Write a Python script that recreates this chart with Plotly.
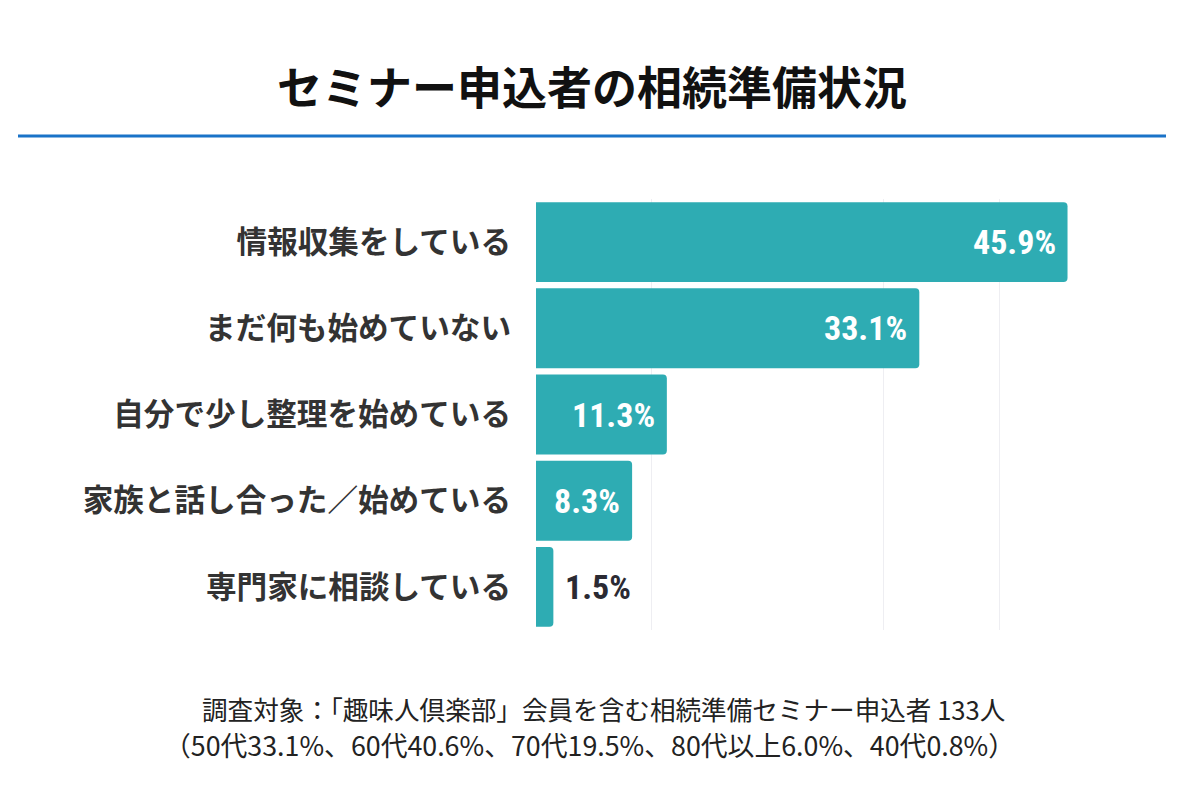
import plotly.graph_objects as go

# ---- data ----
categories = [
    "情報収集をしている",
    "まだ何も始めていない",
    "自分で少し整理を始めている",
    "家族と話し合った／始めている",
    "専門家に相談している",
]
values = [45.9, 33.1, 11.3, 8.3, 1.5]
value_labels = ["45.9%", "33.1%", "11.3%", "8.3%", "1.5%"]
inside_flags = [True, True, True, True, False]
title_text = "セミナー申込者の相続準備状況"
note_lines = [
    "調査対象：「趣味人倶楽部」会員を含む相続準備セミナー申込者 133人",
    "（50代33.1%、60代40.6%、70代19.5%、80代以上6.0%、40代0.8%）",
]
x_range = [0, 50]
grid_ticks = [10, 30, 40]

# ---- layout geometry (pixels) ----
W, H = 1200, 800
L, R, T, B = 536, 85, 199, 170
PW, PH = W - L - R, H - T - B

def px(xp):
    return (xp - L) / PW

def py(yp):
    return ((H - B) - yp) / PH

JP = "Noto Sans CJK JP, Noto Sans, sans-serif"
NUM = "Liberation Sans Narrow, Roboto Condensed, DejaVu Sans Condensed, Roboto, sans-serif"
BAR_COLOR = "#2EACB3"

fig = go.Figure()
fig.add_trace(go.Bar(
    x=values,
    y=categories,
    orientation="h",
    marker=dict(color=BAR_COLOR, cornerradius=4, line=dict(width=0)),
    hoverinfo="skip",
))

annotations = []
for cat, v, lab, inside in zip(categories, values, value_labels, inside_flags):
    annotations.append(dict(
        x=v, y=cat, xref="x", yref="y",
        text=lab, showarrow=False,
        xanchor="right" if inside else "left",
        xshift=-10 if inside else 10,
        yanchor="middle",
        font=dict(family=NUM, size=34, color="#FFFFFF" if inside else "#2B2A33", weight="bold"),
    ))

# title
annotations.append(dict(
    x=px(592), y=py(85), xref="paper", yref="paper",
    text=title_text, showarrow=False, xanchor="center", yanchor="middle",
    font=dict(family=JP, size=45, color="#111111", weight="bold"),
))
# footnote
note_sizes = [25.6, 26.8]
note_x = [603, 589]
for i, line in enumerate(note_lines):
    annotations.append(dict(
        x=px(note_x[i]), y=py(708 + 37 * i), xref="paper", yref="paper",
        text=line, showarrow=False, xanchor="center", yanchor="middle",
        font=dict(family=JP, size=note_sizes[i], color="#222222"),
    ))

fig.update_layout(
    width=W, height=H,
    margin=dict(l=L, r=R, t=T, b=B, pad=0),
    paper_bgcolor="#FFFFFF",
    plot_bgcolor="#FFFFFF",
    bargap=0.073,
    showlegend=False,
    annotations=annotations,
    shapes=[dict(
        type="line", xref="paper", yref="paper",
        x0=px(18), x1=px(1166), y0=py(136), y1=py(136),
        line=dict(color="#1A73C8", width=3),
    )],
    xaxis=dict(
        range=x_range, showticklabels=False, ticks="",
        tickvals=grid_ticks, showgrid=True, gridcolor="#EEEEF2", gridwidth=1,
        zeroline=False, showline=False, fixedrange=True,
    ),
    yaxis=dict(
        autorange="reversed", ticks="", showgrid=False, showline=False,
        zeroline=False, ticklabelstandoff=24,
        tickfont=dict(family=JP, size=30.6, color="#333333", weight="bold"),
        fixedrange=True,
    ),
)

fig.write_html("out.html", config={"displayModeBar": False})
